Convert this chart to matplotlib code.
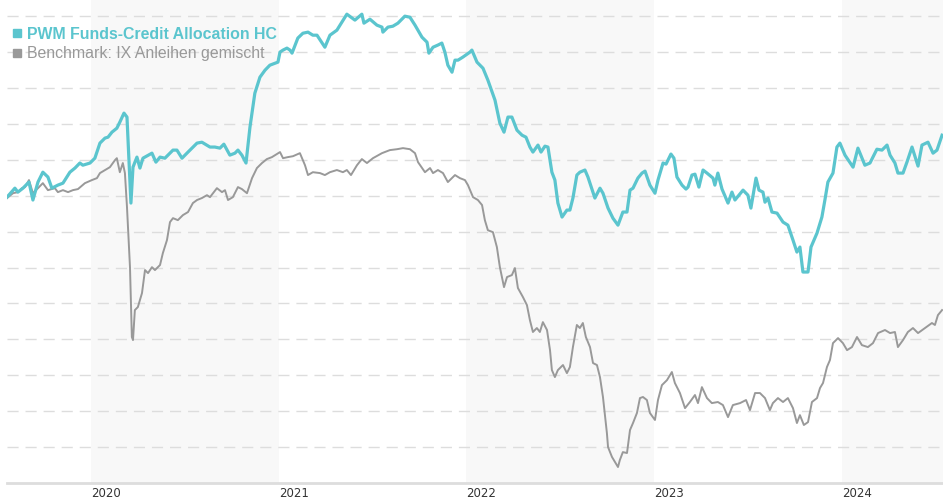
import numpy as np
import matplotlib.pyplot as plt
from matplotlib.lines import Line2D

# performance in % since start, time as fractional year
pwm_t = [2019.553, 2019.595, 2019.611, 2019.638, 2019.670, 2019.691, 2019.718, 2019.744, 2019.771, 2019.792,
         2019.824, 2019.851, 2019.888, 2019.915, 2019.941, 2019.957, 2019.995, 2020.021, 2020.048, 2020.075,
         2020.091, 2020.112, 2020.138, 2020.154, 2020.176, 2020.192, 2020.213, 2020.224, 2020.245, 2020.261,
         2020.277, 2020.325, 2020.346, 2020.368, 2020.394, 2020.437, 2020.458, 2020.485, 2020.517, 2020.565,
         2020.591, 2020.634, 2020.660, 2020.687, 2020.708, 2020.740, 2020.767, 2020.783, 2020.804, 2020.826,
         2020.847, 2020.873, 2020.900, 2020.927, 2020.953, 2020.980, 2020.996, 2021.007, 2021.023, 2021.044,
         2021.060, 2021.071, 2021.102, 2021.129, 2021.156, 2021.182, 2021.204, 2021.246, 2021.273, 2021.310,
         2021.337, 2021.363, 2021.406, 2021.443, 2021.454, 2021.486, 2021.523, 2021.550, 2021.555, 2021.582,
         2021.608, 2021.635, 2021.672, 2021.699, 2021.726, 2021.763, 2021.790, 2021.800, 2021.822, 2021.848,
         2021.869, 2021.885, 2021.901, 2021.923, 2021.939, 2021.955, 2021.981, 2022.019, 2022.029, 2022.056,
         2022.088, 2022.114, 2022.152, 2022.178, 2022.200, 2022.221, 2022.242, 2022.269, 2022.296, 2022.317,
         2022.338, 2022.354, 2022.381, 2022.397, 2022.418, 2022.434, 2022.455, 2022.471, 2022.487, 2022.509,
         2022.535, 2022.551, 2022.567, 2022.588, 2022.604, 2022.631, 2022.647, 2022.684, 2022.711, 2022.727,
         2022.754, 2022.780, 2022.807, 2022.833, 2022.855, 2022.871, 2022.887, 2022.913, 2022.935, 2022.951,
         2022.977, 2023.004, 2023.020, 2023.047, 2023.063, 2023.089, 2023.105, 2023.121, 2023.148, 2023.169,
         2023.180, 2023.201, 2023.217, 2023.238, 2023.260, 2023.281, 2023.313, 2023.323, 2023.339, 2023.361,
         2023.393, 2023.414, 2023.430, 2023.473, 2023.499, 2023.515, 2023.542, 2023.558, 2023.579, 2023.590,
         2023.606, 2023.627, 2023.654, 2023.686, 2023.712, 2023.739, 2023.760, 2023.776, 2023.792, 2023.819,
         2023.835, 2023.867, 2023.893, 2023.909, 2023.925, 2023.952, 2023.973, 2023.989, 2024.016, 2024.059,
         2024.085, 2024.122, 2024.149, 2024.186, 2024.213, 2024.240, 2024.256, 2024.282, 2024.298, 2024.325,
         2024.346, 2024.373, 2024.405, 2024.426, 2024.458, 2024.485, 2024.506, 2024.533]
pwm_v = [-0.08, 0.42, 0.20, 0.42, 0.76, -0.24, 0.76, 1.31, 1.04, 0.42,
         0.59, 0.70, 1.31, 1.54, 1.82, 1.70, 1.82, 2.09, 2.93, 3.21,
         3.26, 3.54, 3.76, 4.10, 4.60, 4.38, -0.41, 1.59, 2.15, 1.54,
         2.09, 2.37, 1.87, 2.15, 2.09, 2.54, 2.54, 2.09, 2.43, 2.93,
         2.98, 2.71, 2.71, 2.65, 2.87, 2.26, 2.37, 2.54, 2.26, 1.82,
         3.82, 5.71, 6.60, 6.99, 7.27, 7.38, 7.44, 8.00, 8.11, 8.22,
         8.11, 7.94, 8.78, 9.05, 9.11, 8.94, 8.94, 8.27, 8.94, 9.22,
         9.67, 10.11, 9.78, 10.11, 9.61, 9.83, 9.50, 9.39, 9.11, 9.39,
         9.44, 9.61, 10.00, 9.94, 9.50, 8.83, 8.55, 7.94, 8.27, 8.39,
         8.50, 8.00, 7.27, 6.88, 7.55, 7.55, 7.72, 8.00, 8.11, 7.44,
         7.10, 6.44, 5.32, 4.04, 3.54, 4.38, 4.38, 3.65, 3.37, 3.26,
         2.71, 2.43, 2.82, 2.43, 2.76, 2.71, 1.31, 0.87, -0.41, -1.19,
         -0.80, -0.80, -0.13, 1.15, 1.31, 1.43, 1.04, -0.13, 0.42, 0.14,
         -0.69, -1.25, -1.64, -0.91, -0.91, 0.31, 0.42, 0.98, 1.26, 1.37,
         0.59, 0.14, 0.87, 1.82, 1.76, 2.32, 2.09, 1.04, 0.59, 0.37,
         0.48, 1.15, 1.20, 0.48, 1.43, 1.26, 0.98, 0.59, 1.26, 0.37,
         -0.41, 0.20, -0.24, 0.31, 0.03, -0.69, 0.98, 0.31, 0.20, -0.36,
         -0.13, -0.91, -0.97, -1.47, -1.64, -2.47, -3.14, -2.86, -4.25, -4.25,
         -2.86, -2.08, -1.19, -0.24, 0.76, 1.26, 2.71, 2.93, 2.26, 1.59,
         2.65, 1.70, 1.82, 2.59, 2.54, 2.82, 2.26, 1.82, 1.26, 1.26,
         1.87, 2.71, 1.65, 2.82, 2.98, 2.37, 2.54, 3.37]

bm_t = [2019.553, 2019.585, 2019.611, 2019.633, 2019.649, 2019.670, 2019.691, 2019.718, 2019.744, 2019.771,
        2019.808, 2019.824, 2019.851, 2019.878, 2019.904, 2019.931, 2019.968, 2020.005, 2020.032, 2020.048,
        2020.075, 2020.101, 2020.128, 2020.138, 2020.154, 2020.170, 2020.181, 2020.192, 2020.208, 2020.218,
        2020.224, 2020.234, 2020.250, 2020.272, 2020.288, 2020.304, 2020.325, 2020.341, 2020.368, 2020.383,
        2020.405, 2020.421, 2020.437, 2020.463, 2020.490, 2020.517, 2020.543, 2020.565, 2020.591, 2020.618,
        2020.634, 2020.671, 2020.698, 2020.714, 2020.730, 2020.756, 2020.783, 2020.804, 2020.831, 2020.858,
        2020.884, 2020.911, 2020.937, 2020.964, 2021.007, 2021.023, 2021.049, 2021.076, 2021.113, 2021.140,
        2021.156, 2021.182, 2021.220, 2021.246, 2021.273, 2021.310, 2021.342, 2021.363, 2021.385, 2021.417,
        2021.443, 2021.470, 2021.502, 2021.550, 2021.592, 2021.630, 2021.662, 2021.699, 2021.726, 2021.742,
        2021.779, 2021.806, 2021.822, 2021.848, 2021.875, 2021.901, 2021.939, 2021.965, 2021.992, 2022.008,
        2022.035, 2022.061, 2022.083, 2022.098, 2022.114, 2022.141, 2022.162, 2022.178, 2022.200, 2022.216,
        2022.242, 2022.258, 2022.274, 2022.301, 2022.322, 2022.338, 2022.354, 2022.375, 2022.391, 2022.407,
        2022.429, 2022.445, 2022.455, 2022.471, 2022.487, 2022.514, 2022.535, 2022.551, 2022.567, 2022.588,
        2022.604, 2022.620, 2022.636, 2022.658, 2022.674, 2022.695, 2022.711, 2022.727, 2022.748, 2022.754,
        2022.775, 2022.791, 2022.807, 2022.817, 2022.833, 2022.855, 2022.871, 2022.887, 2022.908, 2022.924,
        2022.940, 2022.961, 2022.977, 2023.004, 2023.020, 2023.041, 2023.068, 2023.094, 2023.110, 2023.137,
        2023.164, 2023.190, 2023.217, 2023.233, 2023.254, 2023.281, 2023.307, 2023.339, 2023.366, 2023.393,
        2023.419, 2023.457, 2023.489, 2023.510, 2023.537, 2023.563, 2023.590, 2023.616, 2023.632, 2023.659,
        2023.686, 2023.712, 2023.739, 2023.760, 2023.776, 2023.797, 2023.819, 2023.840, 2023.867, 2023.883,
        2023.899, 2023.920, 2023.936, 2023.952, 2023.979, 2024.005, 2024.027, 2024.053, 2024.080, 2024.106,
        2024.138, 2024.165, 2024.192, 2024.229, 2024.256, 2024.282, 2024.298, 2024.325, 2024.351, 2024.378,
        2024.405, 2024.442, 2024.479, 2024.495, 2024.511, 2024.533]
bm_v = [-0.13, 0.14, 0.20, 0.42, 0.48, 0.87, 0.14, 0.42, 0.70, 0.31,
        0.42, 0.20, 0.31, 0.20, 0.31, 0.37, 0.70, 0.87, 0.98, 1.26,
        1.43, 1.59, 1.98, 2.09, 1.31, 1.82, 1.26, -0.63, -3.98, -7.87,
        -8.04, -6.37, -6.20, -5.42, -4.14, -4.31, -3.98, -4.14, -3.86, -3.20,
        -2.47, -1.47, -1.25, -1.36, -1.08, -0.91, -0.41, -0.24, -0.13, 0.03,
        -0.08, 0.42, 0.20, 0.31, -0.24, -0.08, 0.48, 0.37, 0.14, 0.98,
        1.54, 1.82, 2.04, 2.15, 2.43, 2.09, 2.15, 2.20, 2.37, 1.70,
        1.15, 1.31, 1.26, 1.15, 1.31, 1.43, 1.31, 1.43, 1.15, 1.70,
        2.04, 1.82, 2.09, 2.37, 2.54, 2.59, 2.65, 2.59, 2.37, 1.87,
        1.31, 1.54, 1.26, 1.43, 1.26, 0.76, 1.15, 0.98, 0.87, 0.59,
        -0.08, -0.24, -0.52, -1.36, -1.92, -2.03, -2.86, -3.98, -5.09, -4.53,
        -4.42, -4.03, -5.14, -5.65, -6.09, -6.93, -7.59, -7.37, -7.59, -7.04,
        -7.48, -8.60, -9.71, -10.10, -9.71, -9.43, -9.88, -9.54, -8.43, -7.20,
        -7.37, -7.09, -7.87, -8.43, -9.32, -9.43, -10.10, -11.21, -13.22, -14.00,
        -14.55, -14.83, -15.11, -14.72, -14.28, -14.33, -13.05, -12.66, -12.10, -11.27,
        -11.21, -11.38, -12.10, -12.49, -11.38, -10.55, -10.27, -9.82, -10.43, -10.99,
        -11.83, -11.49, -11.10, -11.55, -10.66, -11.27, -11.55, -11.49, -11.66, -12.33,
        -11.66, -11.55, -11.38, -11.94, -10.99, -10.99, -11.27, -11.94, -11.55, -11.27,
        -11.49, -11.27, -11.83, -12.66, -12.22, -12.77, -12.61, -11.49, -11.27, -10.71,
        -10.43, -9.54, -9.15, -8.21, -7.93, -8.21, -8.60, -8.43, -7.87, -8.32,
        -8.43, -8.21, -7.65, -7.48, -7.65, -7.59, -8.43, -8.04, -7.59, -7.37,
        -7.65, -7.37, -7.09, -7.20, -6.65, -6.37]

years = [2020, 2021, 2022, 2023, 2024]
label_pwm = 'PWM Funds-Credit Allocation HC'
label_bm = 'Benchmark: IX Anleihen gemischt'

teal = '#5bc5ce'
grey = '#999999'

fig = plt.figure(figsize=(9.43, 5.0), dpi=100)
ax = fig.add_axes([7 / 943, 17 / 500, 936 / 943, 483 / 500])

xmin, xmax = 2019.553, 2024.538
ax.set_xlim(xmin, xmax)
ax.set_ylim(-16, 10.9)

# shaded every other year
for y0 in years[::2]:
    ax.axvspan(y0, min(y0 + 1, xmax), color='#f8f8f8', lw=0, zorder=0)

for g in np.arange(-14, 11, 2):
    ax.axhline(g, color='#dddddd', lw=1, dashes=(8, 5), zorder=1)

ax.plot(bm_t, bm_v, color=grey, lw=1.4, zorder=3)
ax.plot(pwm_t, pwm_v, color=teal, lw=2.3, zorder=4)

for s in ['top', 'left', 'right']:
    ax.spines[s].set_visible(False)
ax.spines['bottom'].set_color('#dddddd')
ax.spines['bottom'].set_linewidth(2)
ax.set_yticks([])
ax.set_xticks(years)
ax.set_xticklabels([str(y) for y in years], fontsize=8.5, color='#333333',
                   family=['Liberation Sans Narrow', 'DejaVu Sans'], ha='left')
ax.tick_params(axis='x', length=0, pad=3)

handles = [Line2D([], [], ls='none', marker='s', ms=6, color=teal),
           Line2D([], [], ls='none', marker='s', ms=6, color=grey)]
leg = ax.legend(handles, [label_pwm, label_bm], loc='upper left', frameon=False,
                bbox_to_anchor=(-0.001, 0.958), handlelength=0.6, handletextpad=0.3,
                borderaxespad=0.0, labelspacing=0.3,
                prop={'family': 'Liberation Sans', 'size': 11.4})
texts = leg.get_texts()
texts[0].set_color(teal)
texts[0].set_fontweight('bold')
texts[1].set_color(grey)

fig.savefig('out.png', dpi=100)
